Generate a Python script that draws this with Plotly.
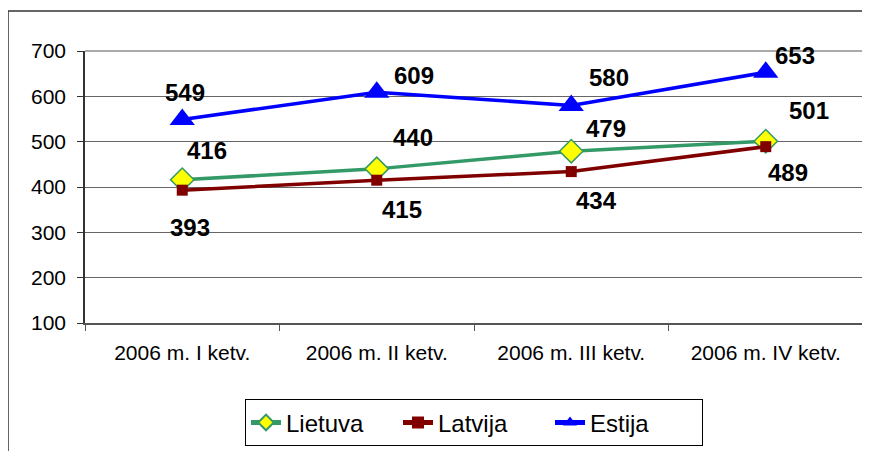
import plotly.graph_objects as go

categories = ["2006 m. I ketv.", "2006 m. II ketv.", "2006 m. III ketv.", "2006 m. IV ketv."]
lietuva = [416, 440, 479, 501]
latvija = [393, 415, 434, 489]
estija = [549, 609, 580, 653]

# label offsets (px) for the value labels
lt_off = [(25, 29), (36, 31), (35, 23), (43, 31)]
lv_off = [(8, -37), (25, -29), (25, -29), (22, -26)]
ee_off = [(3, 27), (37, 17), (38, 28), (29, 17)]

FONT = "Arial, Liberation Sans, sans-serif"

fig = go.Figure()
fig.add_trace(go.Scatter(
    x=categories, y=lietuva, name="Lietuva", mode="lines+markers",
    line=dict(color="#339966", width=3.5),
    marker=dict(symbol="diamond", size=18, color="#FFFF00", line=dict(color="#339966", width=1.5)),
))
fig.add_trace(go.Scatter(
    x=categories, y=latvija, name="Latvija", mode="lines+markers",
    line=dict(color="#800000", width=3.5),
    marker=dict(symbol="square", size=11, color="#800000"),
))
fig.add_trace(go.Scatter(
    x=categories, y=estija, name="Estija", mode="lines+markers",
    line=dict(color="#0000FF", width=3.5),
    marker=dict(symbol="triangle-up", size=22, color="#0000FF"),
))

annotations = []
for vals, offs in ((lietuva, lt_off), (latvija, lv_off), (estija, ee_off)):
    for c, v, (dx, dy) in zip(categories, vals, offs):
        annotations.append(dict(
            x=c, y=v, xref="x", yref="y", text=str(v), showarrow=False,
            xshift=dx, yshift=dy,
            font=dict(family=FONT, size=24, color="black", weight="bold"),
        ))

# page body has an 8px margin; work in page coordinates and shift
OFF = 8
L, T, R, B = 85 - OFF, 51 - OFF, 863 - OFF, 323.5 - OFF
W, H = 870 - OFF, 451 - OFF
pw, ph = R - L, B - T

def px(x):
    return (x - OFF - L) / pw

def py(y):
    return (B - (y - OFF)) / ph

fig.update_layout(
    width=W, height=H,
    margin=dict(l=L, r=W - R, t=T, b=H - B, pad=0, autoexpand=False),
    paper_bgcolor="white", plot_bgcolor="white",
    font=dict(family=FONT, color="black"),
    annotations=annotations,
    showlegend=True,
    legend=dict(
        orientation="h", x=px(474), xanchor="center", y=py(400), yanchor="top",
        font=dict(family=FONT, size=24, color="black"),
        bordercolor="black", borderwidth=1, bgcolor="white",
        itemsizing="constant",
        entrywidth=107, entrywidthmode="pixels",
    ),
    shapes=[
        dict(type="line", xref="paper", yref="paper", x0=px(8), x1=px(880), y0=py(11), y1=py(11),
             line=dict(color="#333333", width=1.5)),
        dict(type="line", xref="paper", yref="paper", x0=px(8), x1=px(8), y0=py(11), y1=py(470),
             line=dict(color="#333333", width=1.5)),
        dict(type="line", xref="paper", yref="paper", x0=0, x1=1, y0=1, y1=1,
             line=dict(color="#555555", width=1)),
    ],
)
fig.update_xaxes(
    type="category", range=[-0.5, 3.5], automargin=False,
    showline=True, linecolor="#555555", linewidth=1.5,
    showgrid=False, zeroline=False,
    ticks="outside", ticklen=6, tickcolor="#555555", tickson="boundaries",
    tickfont=dict(family=FONT, size=21, color="black"),
    ticklabelstandoff=10,
)
fig.update_yaxes(
    range=[100, 700], dtick=100, tick0=100, automargin=False,
    showline=True, linecolor="#333333", linewidth=1.5,
    showgrid=True, gridcolor="#666666", gridwidth=1,
    zeroline=False,
    ticks="outside", ticklen=6, tickcolor="#333333",
    tickfont=dict(family=FONT, size=21, color="black"),
    ticklabelstandoff=7,
)

fig.write_html("out.html")
